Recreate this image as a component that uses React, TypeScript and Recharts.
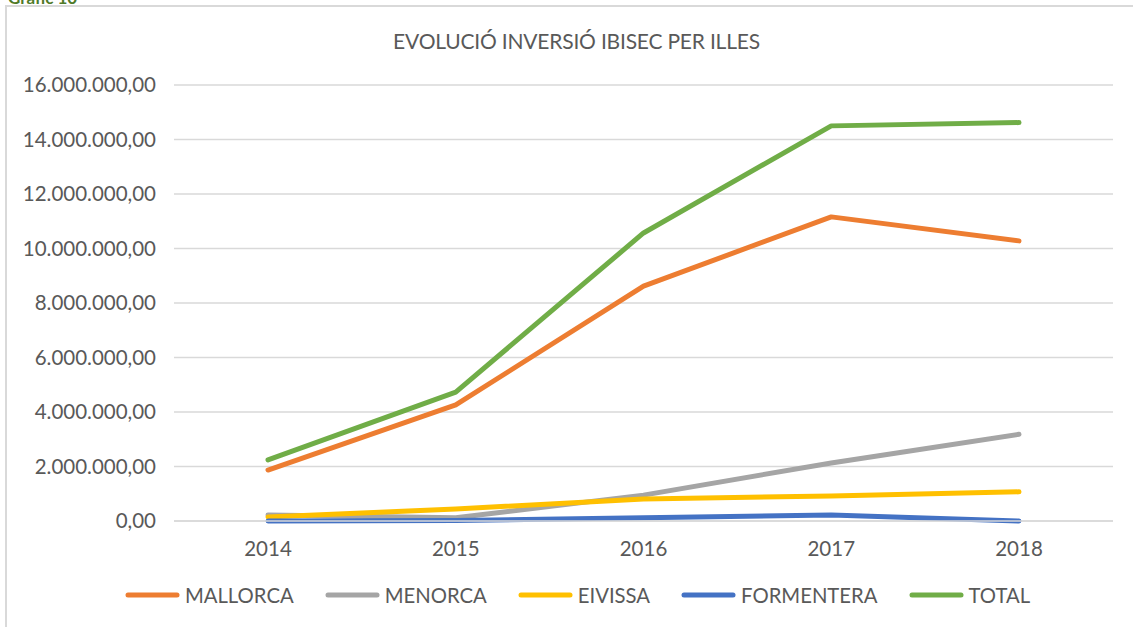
import React from "react";
import {
  LineChart,
  Line,
  XAxis,
  YAxis,
  CartesianGrid,
} from "recharts";

/* dades ------------------------------------------------------------- */
const YEARS = ["2014", "2015", "2016", "2017", "2018"];
const MALLORCA = [1870000, 4260000, 8620000, 11160000, 10280000];
const MENORCA = [220000, 120000, 950000, 2130000, 3180000];
const EIVISSA = [150000, 440000, 810000, 920000, 1070000];
const FORMENTERA = [0, 20000, 120000, 220000, 0];
const TOTAL = [2240000, 4730000, 10570000, 14500000, 14620000];
const Y_TICKS = [0, 2000000, 4000000, 6000000, 8000000, 10000000, 12000000, 14000000, 16000000];

const SERIES = [
  { key: "MALLORCA", values: MALLORCA, color: "#ED7D31" },
  { key: "MENORCA", values: MENORCA, color: "#A5A5A5" },
  { key: "EIVISSA", values: EIVISSA, color: "#FFC000" },
  { key: "FORMENTERA", values: FORMENTERA, color: "#4472C4" },
  { key: "TOTAL", values: TOTAL, color: "#70AD47" },
];

const data = YEARS.map((y, i) => {
  const row: Record<string, string | number> = { year: y };
  SERIES.forEach((s) => (row[s.key] = s.values[i]));
  return row;
});

const FONT = "Lato, 'Open Sans', sans-serif";

/* 16000000 -> "16.000.000,00" */
const fmt = (v: number) =>
  Math.round(v)
    .toString()
    .replace(/\B(?=(\d{3})+(?!\d))/g, ".") + ",00";

const LegendRow = () => (
  <div
    style={{
      display: "flex",
      justifyContent: "center",
      gap: 31,
      paddingLeft: 22,
      fontFamily: FONT,
      fontSize: 20.3,
      color: "#595959",
    }}
  >
    {SERIES.map((s) => (
      <div key={s.key} style={{ display: "flex", alignItems: "center", gap: 5 }}>
        <svg width={55} height={8}>
          <line x1={3} y1={4} x2={52} y2={4} stroke={s.color} strokeWidth={5} strokeLinecap="round" />
        </svg>
        <span>{s.key}</span>
      </div>
    ))}
  </div>
);

export default function App() {
  return (
    <div
      style={{
        position: "absolute",
        left: 0,
        top: 0,
        width: 1133,
        height: 627,
        overflow: "hidden",
        background: "#fff",
      }}
    >
      {/* capçalera tallada */}
      <div
        style={{
          position: "absolute",
          left: 8,
          top: -13,
          fontFamily: FONT,
          fontWeight: 700,
          fontSize: 17,
          color: "#4F7A28",
        }}
      >
        Gràfic 10
      </div>

      {/* marc */}
      <div
        style={{
          position: "absolute",
          left: 5,
          top: 5,
          width: 1160,
          height: 660,
          border: "2px solid #d9d9d9",
        }}
      />

      <div
        style={{
          position: "absolute",
          top: 28,
          width: 1133,
          textAlign: "center",
          fontFamily: FONT,
          fontSize: 21,
          letterSpacing: -0.2,
          color: "#595959",
          paddingLeft: 20,
          boxSizing: "border-box",
        }}
      >
        EVOLUCIÓ INVERSIÓ IBISEC PER ILLES
      </div>

      <div style={{ position: "absolute", left: 0, top: 0 }}>
        <LineChart
          width={1133}
          height={627}
          data={data}
          margin={{ top: 85, right: 20, bottom: 46, left: 0 }}
        >
          <CartesianGrid vertical={false} stroke="#d9d9d9" strokeWidth={1.5} />
          <XAxis
            dataKey="year"
            height={60}
            padding={{ left: 94, right: 94 }}
            axisLine={{ stroke: "#d9d9d9", strokeWidth: 1.5 }}
            tickLine={false}
            tickMargin={14}
            tick={{ fill: "#595959", fontSize: 20.5, fontFamily: FONT }}
          />
          <YAxis
            width={174}
            domain={[0, 16000000]}
            ticks={Y_TICKS}
            tickFormatter={fmt}
            axisLine={false}
            tickLine={false}
            tickSize={0}
            tickMargin={18}
            tick={{ fill: "#595959", fontSize: 20.5, fontFamily: FONT }}
          />
          {SERIES.map((s) => (
            <Line
              key={s.key}
              dataKey={s.key}
              stroke={s.color}
              strokeWidth={5}
              strokeLinecap="round"
              strokeLinejoin="round"
              dot={false}
              activeDot={false}
              isAnimationActive={false}
            />
          ))}
        </LineChart>
      </div>

      <div style={{ position: "absolute", left: 0, top: 583, width: 1133 }}>
        <LegendRow />
      </div>
    </div>
  );
}
